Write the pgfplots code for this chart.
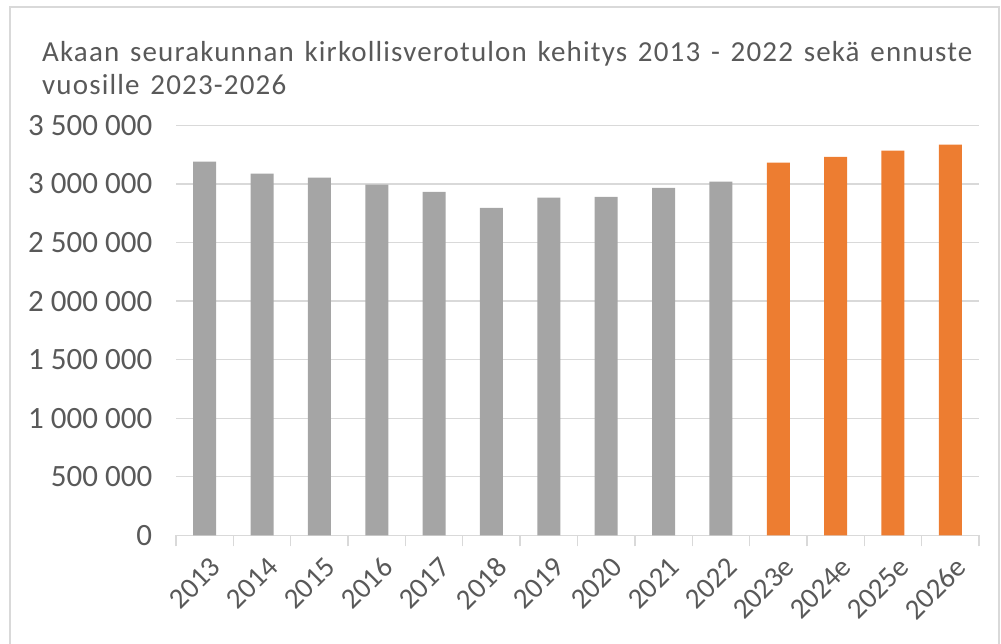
\documentclass[border=0pt]{standalone}
\usepackage{fontspec}
\setmainfont{Carlito}
\newfontfamily\titlefont[LetterSpace=4, WordSpace=1.4]{Carlito}
\usepackage{pgfplots}
\pgfplotsset{compat=1.18}
\definecolor{gridc}{HTML}{D9D9D9}
\definecolor{txt}{HTML}{595959}
\definecolor{bgray}{HTML}{A5A5A5}
\definecolor{borange}{HTML}{ED7D31}
\begin{document}
\begin{tikzpicture}[x=1pt,y=1pt]
\useasboundingbox (0,0) rectangle (1001,644);
\draw[gridc, line width=1.3pt] (10,-20) rectangle (999,637);
\node[anchor=base west, text=txt, font=\titlefont\fontsize{29}{32}\selectfont, inner sep=0] at (42,582) {Akaan seurakunnan kirkollisverotulon kehitys 2013 - 2022 sekä ennuste};
\node[anchor=base west, text=txt, font=\titlefont\fontsize{29}{32}\selectfont, inner sep=0] at (42,549) {vuosille 2023-2026};
\begin{axis}[
  at={(176pt,108.7pt)}, anchor=south west, scale only axis,
  width=803pt, height=409.8pt,
  ymin=0, ymax=3500000, xmin=-0.5, xmax=13.5,
  ybar, bar width=23pt,
  scaled y ticks=false,
  ytick={0,500000,1000000,1500000,2000000,2500000,3000000,3500000},
  yticklabels={0,500 000,1 000 000,1 500 000,2 000 000,2 500 000,3 000 000,3 500 000},
  yticklabel style={font=\fontsize{31}{31}\selectfont, text=txt, xshift=-16pt},
  ymajorgrids, grid style={gridc, line width=1.3pt},
  axis x line*=bottom, axis y line*=left,
  y axis line style={draw=none},
  x axis line style={gridc, line width=1.3pt},
  ytick style={draw=none},
  xtick={0,...,13},
  xticklabels={2013,2014,2015,2016,2017,2018,2019,2020,2021,2022,2023e,2024e,2025e,2026e},
  major x tick style={draw=none},
  minor xtick={-0.5,0.5,...,13.5},
  minor x tick style={draw=gridc, line width=1.3pt},
  tick align=outside, minor tick length=11pt,
  xticklabel style={font=\fontsize{29}{29}\selectfont, text=txt, rotate=45, anchor=east, yshift=-24pt, xshift=-5pt},
]
\addplot[fill=bgray, draw=none, bar shift=0pt] coordinates {(0,3191000)(1,3088000)(2,3054000)(3,2994000)(4,2934000)(5,2797000)(6,2883000)(7,2891000)(8,2968000)(9,3020000)};
\addplot[fill=borange, draw=none, bar shift=0pt] coordinates {(10,3182000)(11,3233000)(12,3285000)(13,3336000)};
\end{axis}
\end{tikzpicture}
\end{document}
